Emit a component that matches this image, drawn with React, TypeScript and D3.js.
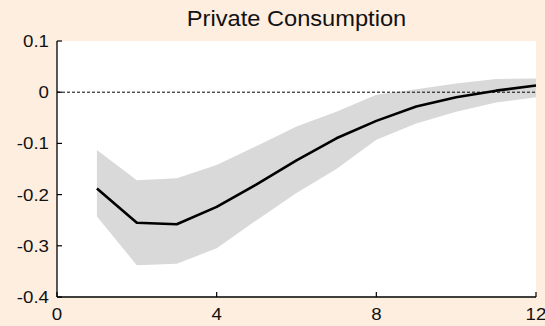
import React from "react";
import * as d3 from "d3";

// Impulse response of private consumption, horizons 1..12
const horizons = [1, 2, 3, 4, 5, 6, 7, 8, 9, 10, 11, 12];
const response = [-0.188, -0.255, -0.258, -0.224, -0.18, -0.133, -0.09, -0.056, -0.028, -0.01, 0.003, 0.013];
const upperBand = [-0.113, -0.172, -0.168, -0.142, -0.105, -0.067, -0.038, -0.005, 0.006, 0.017, 0.026, 0.027];
const lowerBand = [-0.243, -0.338, -0.335, -0.305, -0.25, -0.197, -0.15, -0.093, -0.061, -0.038, -0.02, -0.01];

const xTicks = [0, 4, 8, 12];
const yTicks = [0.1, 0, -0.1, -0.2, -0.3, -0.4];
const title = "Private Consumption";

const W = 545;
const H = 326;
const margin = { left: 57, right: 9, top: 41, bottom: 29 };

export default function App() {
  const x = d3.scaleLinear().domain([0, 12]).range([margin.left, W - margin.right]);
  const y = d3.scaleLinear().domain([-0.4, 0.1]).range([H - margin.bottom, margin.top]);

  const pts = horizons.map((h, i) => ({ h, m: response[i], lo: lowerBand[i], hi: upperBand[i] }));
  const area = d3
    .area<(typeof pts)[number]>()
    .x((d) => x(d.h))
    .y0((d) => y(d.lo))
    .y1((d) => y(d.hi));
  const line = d3
    .line<(typeof pts)[number]>()
    .x((d) => x(d.h))
    .y((d) => y(d.m));

  const x0 = x(0);
  const x1 = x(12);
  const yTop = y(0.1);
  const yBot = y(-0.4);
  const font = "'Liberation Sans', Arial, Helvetica, sans-serif";
  const tick = 5;

  return (
    <svg
      width={W}
      height={H}
      style={{ position: "absolute", left: 0, top: 0, background: "#fdeee0" }}
      fontFamily={font}
    >
      <rect x={0} y={0} width={W} height={H} fill="#fdeee0" />
      <rect x={x0} y={yTop} width={x1 - x0} height={yBot - yTop} fill="#ffffff" />

      <path d={area(pts) ?? ""} fill="#d9d9d9" stroke="none" />
      <line x1={x0} x2={x1} y1={y(0)} y2={y(0)} stroke="#000" strokeWidth={1} strokeDasharray="3,2" />
      <path d={line(pts) ?? ""} fill="none" stroke="#000" strokeWidth={2.6} strokeLinejoin="round" />

      {/* axes */}
      <line x1={x0} x2={x0} y1={yTop} y2={yBot} stroke="#000" strokeWidth={1.3} />
      <line x1={x0} x2={x1} y1={yBot} y2={yBot} stroke="#000" strokeWidth={1.3} />

      {yTicks.map((v) => (
        <g key={"y" + v}>
          <line x1={x0} x2={x0 + tick} y1={y(v)} y2={y(v)} stroke="#000" strokeWidth={1.2} />
          <text
            transform={`translate(${x0 - 8},${y(v) + 6}) scale(1.1,1)`}
            textAnchor="end"
            fontSize={17}
            fill="#111"
          >
            {v === 0 ? "0" : String(v)}
          </text>
        </g>
      ))}

      {xTicks.map((v) => (
        <g key={"x" + v}>
          <line x1={x(v)} x2={x(v)} y1={yBot} y2={yBot - tick} stroke="#000" strokeWidth={1.2} />
          <text
            transform={`translate(${x(v)},${yBot + 23}) scale(1.1,1)`}
            textAnchor="middle"
            fontSize={17}
            fill="#111"
          >
            {v}
          </text>
        </g>
      ))}

      <text
        transform={`translate(${(x0 + x1) / 2},${26}) scale(1.1,1)`}
        textAnchor="middle"
        fontSize={21.5}
        fill="#111"
      >
        {title}
      </text>
    </svg>
  );
}
